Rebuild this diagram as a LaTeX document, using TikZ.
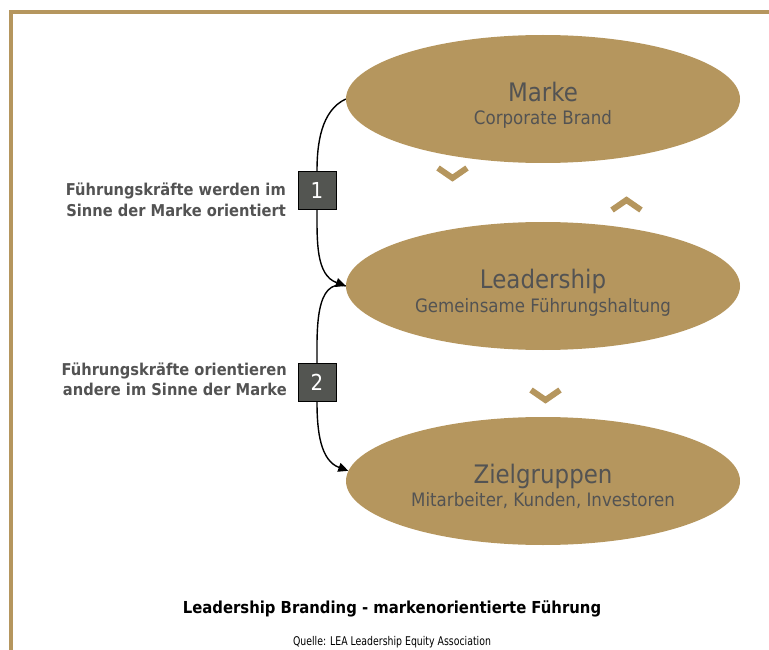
\documentclass[tikz,border=0pt]{standalone}
\usepackage{fontspec}
\setmainfont{DejaVu Sans}[FakeStretch=0.9]
\newfontfamily\qfont{DejaVu Sans}[FakeStretch=0.78]
\usetikzlibrary{shapes.geometric,arrows.meta,backgrounds}
\definecolor{gold}{HTML}{B5965E}
\definecolor{txt}{HTML}{535353}
\definecolor{boxgray}{HTML}{535551}
\tikzset{
  ell/.style={ellipse, fill=gold, minimum width=394pt, minimum height=128pt, inner sep=0pt},
  etitle/.style={anchor=base, inner sep=0pt, text=txt, font=\fontsize{25.5}{25.5}\selectfont},
  esub/.style={anchor=base, inner sep=0pt, text=txt, font=\fontsize{18.5}{18.5}\selectfont},
  chev/.style={draw=gold, line width=6pt},
  numbox/.style={fill=boxgray, draw=black, line width=1pt, minimum size=38pt, inner sep=0pt, text=white, font=\fontsize{22}{22}\selectfont},
  lbl/.style={anchor=base east, inner sep=0pt, text=txt, font=\bfseries\fontsize{16.3}{16.3}\selectfont},
  conn/.style={draw=black, line width=1.4pt},
  tip/.style={-{Triangle[length=10pt,width=9pt]}}
}
\begin{document}
\begin{tikzpicture}[x=1pt,y=-1pt]
\useasboundingbox (0,0) rectangle (769,650);
% frame
\draw[gold, line width=4pt] (11,650) -- (11,12) -- (769,12);
% ellipses
\node[ell] (m) at (543,99) {};
\node[ell] (l) at (543,286) {};
\node[ell] (z) at (543,481) {};
\node[etitle] (mt) at (543,102) {Marke};
\node[esub] (ms) at (543,125) {Corporate Brand};
\node[etitle] (lt) at (543,288) {Leadership};
\node[esub] (ls) at (543,312) {Gemeinsame Führungshaltung};
\node[etitle] (zt) at (543,483) {Zielgruppen};
\node[esub] (zs) at (543,506) {Mitarbeiter, Kunden, Investoren};
% chevrons
\draw[chev] (438,168) -- (452.5,178) -- (467,168);
\draw[chev] (612,210) -- (626.5,200) -- (641,210);
\draw[chev] (531,390) -- (545.5,400) -- (560,390);
% number boxes
\node[numbox] (b1) at (317,190.5) {1};
\node[numbox] (b2) at (317,382.5) {2};
% connectors
\begin{scope}[on background layer]
\draw[conn] (m.west) to[out=205,in=90,looseness=0.9] (b1.north);
\draw[conn,tip] (b1.south) to[out=-90,in=160] (l.west);
\draw[conn] (l.west) to[out=165,in=90] (b2.north);
\draw[conn,tip] (b2.south) to[out=-90,in=160] (z.177);
\end{scope}
% labels
\node[lbl] (t1a) at (286,196) {Führungskräfte werden im};
\node[lbl] (t1b) at (286,217) {Sinne der Marke orientiert};
\node[lbl] (t2a) at (287,375) {Führungskräfte orientieren};
\node[lbl] (t2b) at (287,395) {andere im Sinne der Marke};
% caption
\node[anchor=base, inner sep=0pt, font=\bfseries\fontsize{16.5}{16.5}\selectfont] (title) at (392,613) {Leadership Branding - markenorientierte Führung};
\node[anchor=base, inner sep=0pt, font=\qfont\fontsize{12}{12}\selectfont] (src) at (392,645) {Quelle: LEA Leadership Equity Association};
\end{tikzpicture}
\end{document}
